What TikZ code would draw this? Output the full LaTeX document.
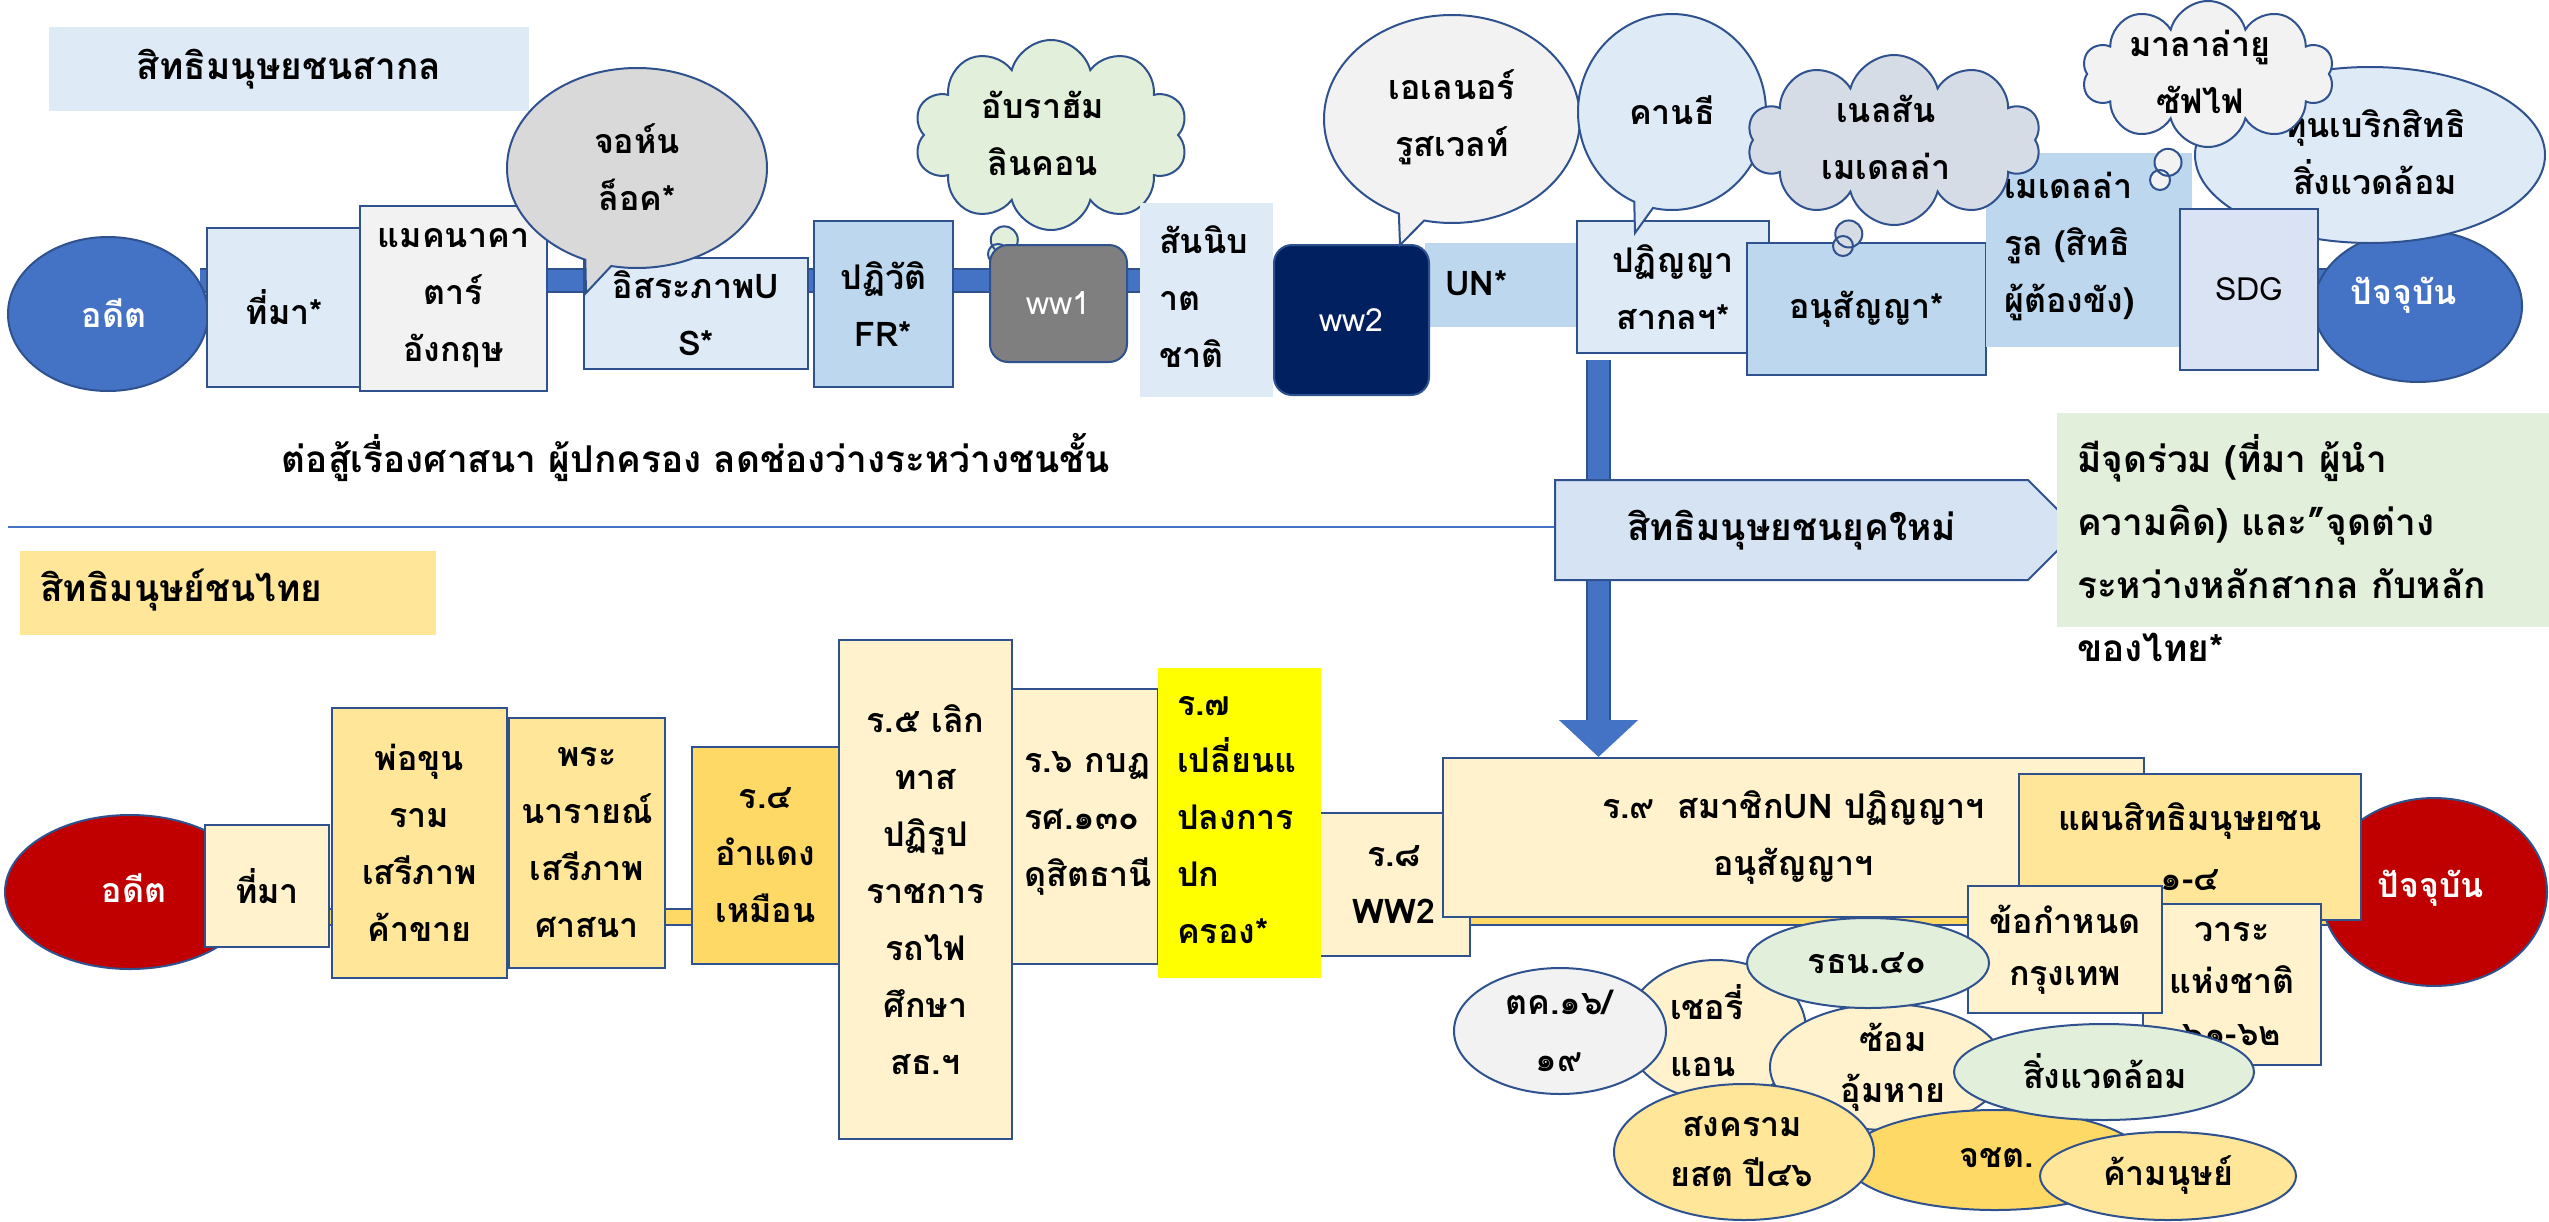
\documentclass[tikz,border=0pt]{standalone}
\usepackage{fontspec}
\setmainfont{Loma}[Script=Thai]
\usetikzlibrary{shapes.geometric,shapes.callouts,shapes.symbols,shapes.arrows,arrows.meta,backgrounds}
\definecolor{bdr}{HTML}{2F528F}
\definecolor{mblue}{HTML}{4472C4}
\definecolor{lbA}{HTML}{DEEBF7}
\definecolor{lbB}{HTML}{BDD7EE}
\definecolor{lgrey}{HTML}{F2F2F2}
\definecolor{mgrey}{HTML}{D9D9D9}
\definecolor{dgrey}{HTML}{7F7F7F}
\definecolor{navy}{HTML}{002060}
\definecolor{lgreen}{HTML}{E2EFDA}
\definecolor{cgrey}{HTML}{D6DCE5}
\definecolor{sdgc}{HTML}{DAE3F3}
\definecolor{goldA}{HTML}{FFE699}
\definecolor{goldB}{HTML}{FFD966}
\definecolor{cream}{HTML}{FFF2CC}
\definecolor{yel}{HTML}{FFFF00}
\definecolor{dred}{HTML}{C00000}
\definecolor{arrfill}{HTML}{D5E3F3}
\newcommand\myfs[2]{\fontsize{#1}{#2}\selectfont\bfseries}
\tikzset{
  bx/.style={rectangle, draw=bdr, line width=2pt, inner sep=0pt, align=center, font={\myfs{34}{57}}},
  nb/.style={rectangle, inner sep=0pt, align=center, font={\myfs{34}{57}}},
  el/.style={ellipse, draw=bdr, line width=2pt, inner sep=0pt},
  tx/.style={inner sep=0pt, align=center, font={\myfs{34}{57}}},
  txl/.style={inner sep=0pt, align=left, anchor=west, font={\myfs{34}{57}}},
  big/.style={font={\myfs{37}{63}}},
  lat/.style={font=\fontsize{32}{40}\selectfont},
  bub/.style={ellipse callout, draw=bdr, line width=2pt, inner sep=0pt, callout pointer arc=12},
  cld/.style={cloud callout, draw=bdr, line width=2pt, inner sep=0pt, cloud puffs=10, cloud ignores aspect, callout pointer start size=30pt and 34pt, callout pointer end size=16pt and 20pt, callout pointer segments=2},
}
\begin{document}
\begin{tikzpicture}[x=1pt,y=-1pt]
\fill[white] (0,0) rectangle (2549,1221);
\useasboundingbox (0,0) rectangle (2549,1221);
% ---------- top bar ----------
\coordinate (barL) at (200,280.5);
\coordinate (barR) at (2330,280.5);
\draw[bdr, line width=25pt] (barL) -- (barR);
\draw[mblue, line width=21pt] (barL) -- (barR);
% ---------- top row ----------
\node[nb, big, fill=lbA, minimum width=480, minimum height=84] (title1) at (289,69) {สิทธิมนุษยชนสากล};
\node[el, fill=mblue, minimum width=200, minimum height=154] (past1) at (108,314) {};
\node[tx, text=white] (past1t) at (114,313) {อดีต};
\node[bx, fill=lbA, minimum width=155, minimum height=159] (src1) at (284.5,307.5) {ที่มา*};
\node[bx, fill=lgrey, minimum width=187, minimum height=185] (magna) at (453.5,298.5) {แมคนาคา\\ตาร์\\อังกฤษ};
\node[bx, fill=lbA, minimum width=224, minimum height=111] (usind) at (696,313.5) {อิสระภาพU\\S*};
\node[bub, fill=mgrey, minimum width=260, minimum height=200, callout absolute pointer={(586,293)}] (locke) at (637,168) {};
\node[tx] (locket) at (637,167) {จอห์น\\ล็อค*};
\node[bx, fill=lbB, minimum width=139, minimum height=166] (frrev) at (883.5,304) {ปฏิวัติ\\FR*};
\node[cld, fill=lgreen, minimum width=274, minimum height=190, callout absolute pointer={(998,254)}] (lincoln) at (1051,135) {};
\node[tx] (lincolnt) at (1043,133) {อับราฮัม\\ลินคอน};
\node[rectangle, draw=bdr, line width=2pt, rounded corners=18pt, fill=dgrey, minimum width=137, minimum height=117, inner sep=0pt, text=white, lat] (ww1) at (1058.5,303.5) {ww1};
\node[nb, fill=lbA, minimum width=133, minimum height=194] (league) at (1206.5,300) {};
\node[txl] (leaguet) at (1159,297) {สันนิบ\\าต\\ชาติ};
\node[nb, fill=lbB, minimum width=161, minimum height=84] (unbox) at (1505.5,285) {};
\node[txl] (unboxt) at (1445,283) {UN*};
\node[rectangle, draw=bdr, line width=2pt, rounded corners=18pt, fill=navy, minimum width=155, minimum height=150, inner sep=0pt, text=white, lat] (ww2) at (1351.5,320) {ww2};
\node[bub, fill=lgrey, minimum width=256, minimum height=208, callout absolute pointer={(1400,245)}] (roos) at (1452,119) {};
\node[tx] (roost) at (1452,117) {เอเลนอร์\\รูสเวลท์};
\node[bx, fill=lbA, minimum width=192, minimum height=132] (udhr) at (1673,287) {ปฏิญญา\\สากลฯ*};
\node[bub, fill=lbA, minimum width=188, minimum height=196, callout absolute pointer={(1635,233)}] (gandhi) at (1672,112) {};
\node[tx] (gandhit) at (1672,110) {คานธี};
\node[bx, fill=lbB, minimum width=239, minimum height=132] (conv) at (1866.5,309) {อนุสัญญา*};
\node[nb, fill=lbB, minimum width=206, minimum height=194] (mrules) at (2089,250) {};
\node[txl] (mrulest) at (2004,246) {เมเดลล่า\\รูล (สิทธิ\\ผู้ต้องขัง)};
\node[cld, fill=cgrey, minimum width=294, minimum height=170, callout absolute pointer={(1843,246)}] (mandela) at (1894,140) {};
\node[tx] (mandelat) at (1886,137) {เนลสัน\\เมเดลล่า};
\node[el, fill=mblue, minimum width=208, minimum height=152] (present1) at (2418,306) {};
\node[tx, text=white] (present1t) at (2404,295) {ปัจจุบัน};
\node[el, fill=lbA, minimum width=350, minimum height=176] (capb) at (2370,155) {};
\node[tx] (capbt) at (2375,152) {ทุนเบริกสิทธิ\\สิ่งแวดล้อม};
\node[cld, fill=lgrey, minimum width=252, minimum height=146, callout absolute pointer={(2160,180)}] (malala) at (2208,74) {};
\node[tx] (malalat) at (2200,72) {มาลาล่ายู\\ซัฟไฟ};
\node[bx, fill=sdgc, minimum width=138, minimum height=161, lat] (sdg) at (2249,289.5) {SDG};
\node[tx, big] (fight) at (696,457) {ต่อสู้เรื่องศาสนา ผู้ปกครอง ลดช่องว่างระหว่างชนชั้น};
% ---------- middle ----------
\coordinate (arrTop) at (1598.5,360);
\draw[bdr, line width=25pt] (arrTop) -- (arrTop |- 0,722);
\draw[mblue, line width=21pt, -{Triangle[width=77pt,length=37pt]}] (arrTop) -- (arrTop |- 0,757);
\node[signal, signal to=east, signal pointer angle=90, draw=bdr, line width=2pt, fill=arrfill, minimum width=523, minimum height=100, inner sep=0pt, big] (newera) at (1791.5,530) {สิทธิมนุษยชนยุคใหม่};
\coordinate (sepL) at (8,527);
\draw[mblue, line width=2.5pt] (sepL) -- (newera.west |- sepL);
\node[nb, fill=lgreen, minimum width=492, minimum height=214] (common) at (2303,520) {};
\node[txl, big] (commont) at (2077,548) {มีจุดร่วม (ที่มา ผู้นำ\\ความคิด) และ”จุดต่าง\\ระหว่างหลักสากล กับหลัก\\ของไทย*};
% ---------- bottom ----------
\coordinate (ybarL) at (250,917);
\coordinate (ybarR) at (2330,917);
\draw[bdr, line width=18pt] (ybarL) -- (ybarR);
\draw[goldB, line width=14pt] (ybarL) -- (ybarR);
\node[nb, fill=goldA, minimum width=416, minimum height=84] (title2) at (228,593) {};
\node[txl, big] (title2t) at (40,590) {สิทธิมนุษย์ชนไทย};
\node[el, fill=dred, minimum width=250, minimum height=154] (past2) at (130,892) {};
\node[tx, text=white] (past2t) at (134,888) {อดีต};
\node[bx, fill=cream, minimum width=124, minimum height=122] (src2) at (267,886) {ที่มา};
\node[bx, fill=goldA, minimum width=175, minimum height=270] (ramk) at (419.5,843) {พ่อขุน\\ราม\\เสรีภาพ\\ค้าขาย};
\node[bx, fill=goldA, minimum width=156, minimum height=250] (narai) at (587,843) {พระ\\นารายณ์\\เสรีภาพ\\ศาสนา};
\node[bx, fill=goldB, minimum width=147, minimum height=217] (r4) at (765.5,855.5) {ร.๔\\อำแดง\\เหมือน};
\node[bx, fill=cream, minimum width=173, minimum height=499] (r5) at (925.5,889.5) {ร.๕ เลิก\\ทาส\\ปฏิรูป\\ราชการ\\รถไฟ\\ศึกษา\\สธ.ฯ};
\node[bx, fill=cream, minimum width=146, minimum height=275] (r6) at (1085,826.5) {};
\node[txl] (r6t) at (1024,823) {ร.๖ กบฏ\\รศ.๑๓๐\\ดุสิตธานี};
\node[bx, fill=cream, minimum width=152, minimum height=143] (r8) at (1394,884.5) {ร.๘\\WW2};
\node[nb, fill=yel, minimum width=163, minimum height=310] (r7) at (1239.5,823) {};
\node[txl] (r7t) at (1177,820) {ร.๗\\เปลี่ยนแ\\ปลงการ\\ปก\\ครอง*};
\node[bx, fill=cream, minimum width=701, minimum height=159] (r9) at (1793.5,837.5) {ร.๙~~สมาชิกUN ปฏิญญาฯ\\อนุสัญญาฯ};
\node[el, fill=dred, minimum width=226, minimum height=188] (present2) at (2434,892) {};
\node[tx, text=white] (present2t) at (2431,888) {ปัจจุบัน};
\node[bx, fill=goldA, minimum width=342, minimum height=146, font={\myfs{34}{60}}] (plan) at (2190,847) {แผนสิทธิมนุษยชน\\๑-๔};
\node[bx, fill=cream, minimum width=178, minimum height=161, font={\myfs{34}{52}}] (agenda) at (2232,984.5) {วาระ\\แห่งชาติ\\๖๑-๖๒};
\node[bx, fill=cream, minimum width=194, minimum height=127, font={\myfs{34}{52}}] (bkk) at (2065,949.5) {ข้อกำหนด\\กรุงเทพ};
\node[el, fill=cream, minimum width=180, minimum height=140] (cherry) at (1716,1030) {};
\node[txl] (cherryt) at (1670,1031) {เชอรี่\\แอน};
\node[el, fill=lgrey, minimum width=212, minimum height=126] (oct) at (1560,1031) {};
\node[tx] (octt) at (1559,1031) {ตค.๑๖/\\๑๙};
\node[el, fill=cream, minimum width=234, minimum height=126] (tort) at (1887,1067) {};
\node[tx, font={\myfs{34}{51}}] (tortt) at (1893,1067) {ซ้อม\\อุ้มหาย};
\node[el, fill=lgreen, minimum width=242, minimum height=90] (c40) at (1868,963) {};
\node[tx] (c40t) at (1867,963) {รธน.๔๐};
\node[el, fill=goldB, minimum width=298, minimum height=100] (south) at (1995,1160) {};
\node[tx] (southt) at (1997,1158) {จชต.};
\node[el, fill=lgreen, minimum width=300, minimum height=96] (env) at (2104,1072) {};
\node[tx] (envt) at (2105,1071) {สิ่งแวดล้อม};
\node[el, fill=goldA, minimum width=260, minimum height=136] (war) at (1744,1152) {};
\node[tx, font={\myfs{34}{50}}] (wart) at (1742,1152) {สงคราม\\ยสต ปี๔๖};
\node[el, fill=goldA, minimum width=256, minimum height=88] (traf) at (2168,1176) {};
\node[tx] (traft) at (2168,1175) {ค้ามนุษย์};
\end{tikzpicture}
\end{document}
